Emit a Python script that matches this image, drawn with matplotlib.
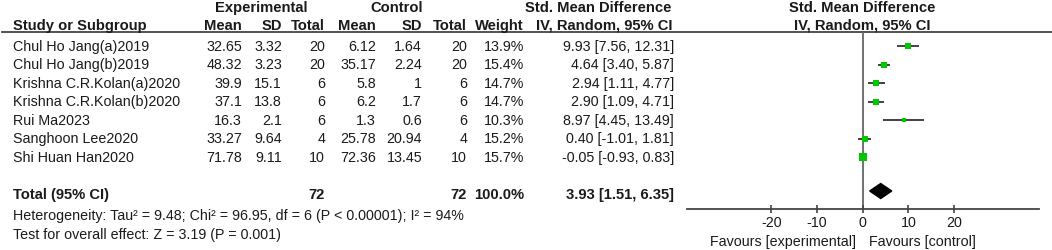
import numpy as np
import matplotlib
matplotlib.use("Agg")
import matplotlib.pyplot as plt

plt.rcParams["font.family"] = ["Liberation Sans", "DejaVu Sans"]

# data
studies = [
    "Chul Ho Jang(a)2019",
    "Chul Ho Jang(b)2019",
    "Krishna C.R.Kolan(a)2020",
    "Krishna C.R.Kolan(b)2020",
    "Rui Ma2023",
    "Sanghoon Lee2020",
    "Shi Huan Han2020",
]
exp_mean = [32.65, 48.32, 39.9, 37.1, 16.3, 33.27, 71.78]
exp_sd = [3.32, 3.23, 15.1, 13.8, 2.1, 9.64, 9.11]
exp_n = [20, 20, 6, 6, 6, 4, 10]
ctl_mean = [6.12, 35.17, 5.8, 6.2, 1.3, 25.78, 72.36]
ctl_sd = [1.64, 2.24, 1, 1.7, 0.6, 20.94, 13.45]
ctl_n = [20, 20, 6, 6, 6, 4, 10]
weights = [13.9, 15.4, 14.7, 14.7, 10.3, 15.2, 15.7]
smd = [9.93, 4.64, 2.94, 2.90, 8.97, 0.40, -0.05]
ci_lo = [7.56, 3.40, 1.11, 1.09, 4.45, -1.01, -0.93]
ci_hi = [12.31, 5.87, 4.77, 4.71, 13.49, 1.81, 0.83]
total_n_exp, total_n_ctl, total_weight = 72, 72, 100.0
total_smd, total_lo, total_hi = 3.93, 1.51, 6.35
ticks = [-20, -10, 0, 10, 20]

W, H = 1052, 251
fig = plt.figure(figsize=(W / 100, H / 100), dpi=100)

# text layer in pixel units
ax_t = fig.add_axes([0, 0, 1, 1])
ax_t.set_xlim(0, W)
ax_t.set_ylim(H, 0)
ax_t.axis("off")

fs = 10.3
fs_b = 10.6
tc = "#1a1a1a"

def txt(x, y, s, ha="left", bold=False):
    ax_t.text(x, y, s, ha=ha, va="center", fontsize=fs_b if bold else fs,
              color=tc, fontweight="bold" if bold else "normal")

# headers
txt(261, 8, "Experimental", "center", True)
txt(397, 8, "Control", "center", True)
txt(598, 8, "Std. Mean Difference", "center", True)
txt(862, 8, "Std. Mean Difference", "center", True)
y_h = 26
txt(13, y_h, "Study or Subgroup", bold=True)
txt(242, y_h, "Mean", "right", True)
txt(282, y_h, "SD", "right", True)
txt(325, y_h, "Total", "right", True)
txt(376, y_h, "Mean", "right", True)
txt(422, y_h, "SD", "right", True)
txt(467, y_h, "Total", "right", True)
txt(524, y_h, "Weight", "right", True)
txt(604, y_h, "IV, Random, 95% CI", "center", True)
txt(862, y_h, "IV, Random, 95% CI", "center", True)
ax_t.plot([2, W], [33, 33], color="#444444", lw=1.3)

rows_y = 47 + 18.5 * np.arange(len(studies))
for i, y in enumerate(rows_y):
    txt(13, y, studies[i])
    txt(242, y, f"{exp_mean[i]:g}", "right")
    txt(282, y, f"{exp_sd[i]:g}", "right")
    txt(325, y, f"{exp_n[i]}", "right")
    txt(376, y, f"{ctl_mean[i]:g}", "right")
    txt(422, y, f"{ctl_sd[i]:g}", "right")
    txt(467, y, f"{ctl_n[i]}", "right")
    txt(524, y, f"{weights[i]:.1f}%", "right")
    txt(674, y, f"{smd[i]:.2f} [{ci_lo[i]:.2f}, {ci_hi[i]:.2f}]", "right")

y_tot = 195
txt(13, y_tot, "Total (95% CI)", bold=True)
txt(325, y_tot, f"{total_n_exp}", "right", True)
txt(467, y_tot, f"{total_n_ctl}", "right", True)
txt(524, y_tot, f"{total_weight:.1f}%", "right", True)
txt(674, y_tot, f"{total_smd:.2f} [{total_lo:.2f}, {total_hi:.2f}]", "right", True)
txt(13, 216, "Heterogeneity: Tau\u00b2 = 9.48; Chi\u00b2 = 96.95, df = 6 (P < 0.00001); I\u00b2 = 94%")
txt(13, 235, "Test for overall effect: Z = 3.19 (P = 0.001)")
txt(856, 242, "Favours [experimental]", "right")
txt(869, 242, "Favours [control]", "left")

# forest panel
x0, x1, ytop, ybot = 687, 1039, 33, 210
ax_f = fig.add_axes([x0 / W, (H - ybot) / H, (x1 - x0) / W, (ybot - ytop) / H])
ax_f.patch.set_alpha(0)
ax_f.set_xlim(-38.5, 38.6)
ax_f.set_ylim(ybot, ytop)
for s in ["top", "left", "right"]:
    ax_f.spines[s].set_visible(False)
ax_f.spines["bottom"].set_color("#444444")
ax_f.spines["bottom"].set_linewidth(1.3)
ax_f.set_yticks([])
ax_f.set_xticks(ticks)
ax_f.set_xticklabels([str(t) for t in ticks])
ax_f.tick_params(axis="x", direction="inout", length=6, width=1.2,
                 color="#444444", labelsize=fs, labelcolor=tc, pad=1)
ax_f.axvline(0, color="#666666", lw=1.3, zorder=1)

green = "#00c800"
ax_f.hlines(rows_y, ci_lo, ci_hi, color="#333333", lw=1.3, zorder=2)
for i, y in enumerate(rows_y):
    side_px = 0.45 * weights[i]
    ax_f.plot(smd[i], y, "s", ms=side_px * 0.72, color=green,
              markeredgewidth=0, zorder=3)

yd = 192
ax_f.fill([total_lo, total_smd, total_hi, total_smd],
          [yd, yd - 7.5, yd, yd + 7.5], color="black", zorder=3)

fig.savefig("out.png", dpi=100)
